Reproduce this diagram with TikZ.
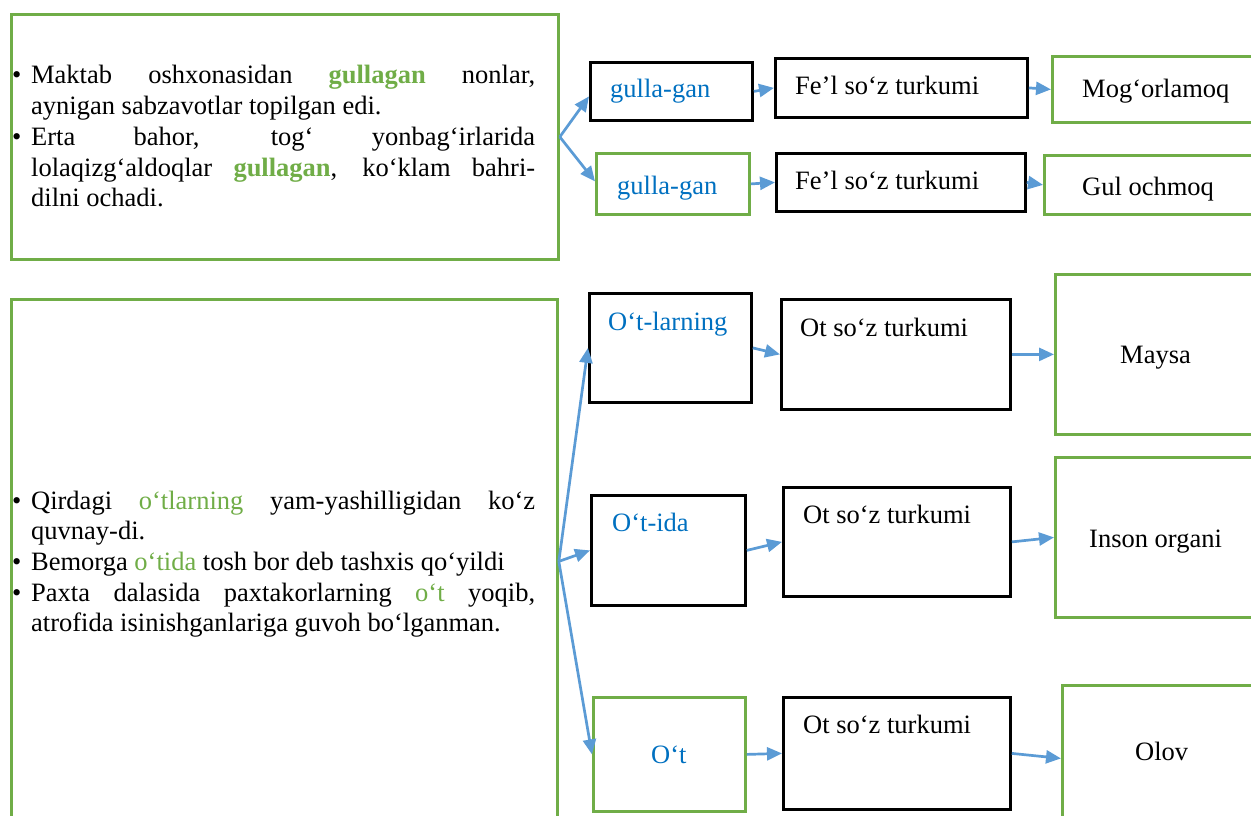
\documentclass[tikz,border=0pt]{standalone}
\usepackage{fontspec}
\setmainfont{Liberation Serif}
\usetikzlibrary{arrows.meta}
\definecolor{boxgreen}{HTML}{70AD47}
\definecolor{linkblue}{HTML}{5B9BD5}
\definecolor{wordblue}{HTML}{0070C0}

\tikzset{
  framegreen/.style={rectangle, draw=boxgreen, line width=2.8pt, inner sep=0pt},
  frameblack/.style={rectangle, draw=black, line width=2.8pt, inner sep=0pt},
  txt/.style={font=\fontsize{26.5}{30.7}\selectfont, inner sep=0pt},
  link/.style={draw=linkblue, line width=2.7pt, -{Triangle[length=15pt,width=13pt]}},
}

% framed box given by its corners: style, name, x1, y1, x2, y2
\newcommand{\frameat}[6]{%
  \node[#1, minimum width={(#5-#3)*1pt}, minimum height={(#6-#4)*1pt},
        anchor=north west] (#2) at (#3,#4) {};}
% one label: name, colour, x, y of the baseline, text
\newcommand{\wordat}[5]{%
  \node[txt, anchor=base west, text=#2] (#1) at (#3,#4) {#5};}
% bulleted paragraph with a hanging indent
\newcommand{\bitem}{\par\hangindent=20pt\hangafter=1\noindent\makebox[20pt][l]{\hspace{1pt}\textbullet}}
\newcommand{\hlb}[1]{\textcolor{boxgreen}{\textbf{#1}}}
\newcommand{\hlg}[1]{\textcolor{boxgreen}{#1}}

\begin{document}
\begin{tikzpicture}[x=1pt, y=-1pt]
  \useasboundingbox (0,0) rectangle (1251,816);
  \clip (0,0) rectangle (1251,816);

  % ---- upper group: "gullagan"
  \frameat{framegreen}{tl}{10}{13}{557}{258}
  \node[inner sep=0pt, anchor=base west] (tltext) at (11,84) {%
    \begin{minipage}[t]{524pt}
      \fontsize{26.5}{30.7}\selectfont\hbadness=10000
      \bitem Maktab oshxonasidan \hlb{gullagan} nonlar,\linebreak
      aynigan sabzavotlar topilgan edi.
      \bitem Erta bahor, tog‘ yonbag‘irlarida\linebreak
      lolaqizg‘aldoqlar \hlb{gullagan}, ko‘klam bahri-\linebreak
      dilni ochadi.
    \end{minipage}};

  \frameat{frameblack}{g1}{589}{61}{751}{119}
  \frameat{frameblack}{f1}{774}{57}{1026}{116}
  \frameat{framegreen}{m1}{1051}{55}{1262}{121}
  \frameat{framegreen}{g2}{595}{152}{748}{213}
  \frameat{frameblack}{f2}{775}{152}{1024}{210}
  \frameat{framegreen}{m2}{1043}{154}{1262}{213}

  \wordat{g1t}{wordblue}{610}{98}{gulla-gan}
  \wordat{f1t}{black}{795}{95}{Fe’l so‘z turkumi}
  \wordat{m1t}{black}{1082}{98}{Mog‘orlamoq}
  \wordat{g2t}{wordblue}{617}{194}{gulla-gan}
  \wordat{f2t}{black}{795}{189}{Fe’l so‘z turkumi}
  \wordat{m2t}{black}{1082}{195}{Gul ochmoq}

  \draw[link] (tl.east) -- ([yshift=-5pt]g1.west);
  \draw[link] (tl.east) -- ([yshift=2.5pt]g2.west);
  \draw[link] (g1.east) -- (f1.west);
  \draw[link] (f1.east) -- (m1.west);
  \draw[link] (g2.east) -- (f2.west);
  \draw[link] (f2.east) -- (m2.west);

  % ---- lower group: "o‘t"
  \frameat{framegreen}{bl}{10}{298}{556}{822}
  \node[inner sep=0pt, anchor=base west] (bltext) at (11,509) {%
    \begin{minipage}[t]{524pt}
      \fontsize{26.5}{30.7}\selectfont\hbadness=10000
      \bitem Qirdagi \hlg{o‘tlarning} yam-yashilligidan ko‘z\linebreak
      quvnay-di.
      \bitem Bemorga \hlg{o‘tida} tosh bor deb tashxis qo‘yildi
      \bitem Paxta dalasida paxtakorlarning \hlg{o‘t} yoqib,\linebreak
      atrofida isinishganlariga guvoh bo‘lganman.
    \end{minipage}};

  \frameat{frameblack}{w1}{588}{292}{750}{401}
  \frameat{frameblack}{o1}{780}{298}{1009}{408}
  \frameat{framegreen}{r1}{1054}{273}{1262}{433}
  \frameat{frameblack}{w2}{590}{494}{744}{604}
  \frameat{frameblack}{o2}{782}{486}{1009}{595}
  \frameat{framegreen}{r2}{1054}{456}{1262}{616}
  \frameat{framegreen}{w3}{592}{696}{744}{810}
  \frameat{frameblack}{o3}{782}{696}{1009}{808}
  \frameat{framegreen}{r3}{1061}{684}{1262}{830}

  \wordat{w1t}{wordblue}{608}{330}{O‘t-larning}
  \wordat{o1t}{black}{800}{336}{Ot so‘z turkumi}
  \wordat{r1t}{black}{1120}{363}{Maysa}
  \wordat{w2t}{wordblue}{612}{531}{O‘t-ida}
  \wordat{o2t}{black}{803}{523}{Ot so‘z turkumi}
  \wordat{r2t}{black}{1089}{547}{Inson organi}
  \wordat{w3t}{wordblue}{651}{763}{O‘t}
  \wordat{o3t}{black}{803}{733}{Ot so‘z turkumi}
  \wordat{r3t}{black}{1135}{760}{Olov}

  \draw[link] (bl.east) -- (w1.west);
  \draw[link] (bl.east) -- (w2.west);
  \draw[link] (bl.east) -- (w3.west);
  \draw[link] (w1.east) -- (o1.west);
  \draw[link] (o1.east) -- (r1.west);
  \draw[link] (w2.east) -- (o2.west);
  \draw[link] (o2.east) -- (r2.west);
  \draw[link] (w3.east) -- (o3.west);
  \draw[link] (o3.east) -- (r3.west);
\end{tikzpicture}
\end{document}
